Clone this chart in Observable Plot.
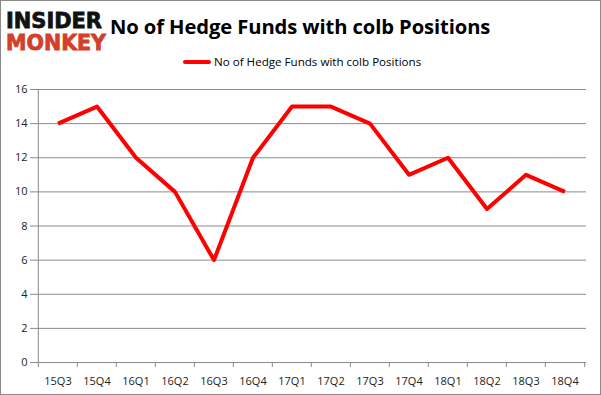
<!DOCTYPE html>
<html>
<head>
<meta charset="utf-8">
<script src="https://cdn.jsdelivr.net/npm/d3@7"></script>
<script src="https://cdn.jsdelivr.net/npm/@observablehq/plot@0.6"></script>
<style>
  html, body { margin: 0; padding: 0; background: #fff; }
  #wrap { position: relative; width: 599px; height: 393px; border: 1px solid #8a8a8a; overflow: hidden; font-family: "Open Sans", "DejaVu Sans", sans-serif; }
  #header { position: relative; height: 79px; }
  #logo { position: absolute; left: 4px; top: 6px; }
  #title { position: absolute; left: 109px; top: 11px; font-size: 20.2px; font-weight: bold; color: #000; white-space: nowrap; letter-spacing: -0.1px; }
  #legend { position: absolute; left: 182px; top: 53px; font-size: 11.6px; color: #000; white-space: nowrap; display: flex; align-items: center; }
  #legend .sw { display: inline-block; width: 28px; height: 4px; background: #ff0000; margin-right: 3px; border-radius: 2px; }
  #chart svg { display: block; }
</style>
</head>
<body>
<div id="wrap">
  <div id="header">
    <svg id="logo" width="104" height="50">
      <text x="1" y="21" font-family="DejaVu Sans" font-weight="bold" font-size="21" fill="#111" textLength="96" lengthAdjust="spacingAndGlyphs" stroke="#111" stroke-width="0.8">INSIDER</text>
      <text x="1" y="43" font-family="DejaVu Sans" font-weight="bold" font-size="21" fill="#d2402c" textLength="100" lengthAdjust="spacingAndGlyphs" stroke="#d2402c" stroke-width="0.8">MONKEY</text>
    </svg>
    <div id="title">No of Hedge Funds with colb Positions</div>
    <div id="legend"><span class="sw"></span><span>No of Hedge Funds with colb Positions</span></div>
  </div>
  <div id="chart"></div>
</div>
<script>
const quarters = ["15Q3","15Q4","16Q1","16Q2","16Q3","16Q4","17Q1","17Q2","17Q3","17Q4","18Q1","18Q2","18Q3","18Q4"];
const funds = [14, 15, 12, 10, 6, 12, 15, 15, 14, 11, 12, 9, 11, 10];
const yTicks = [0, 2, 4, 6, 8, 10, 12, 14, 16];

const data = quarters.map((q, i) => ({q, v: funds[i]}));
const W = 599, mL = 34, mR = 14;
const bw = (W - mL - mR) / quarters.length;
const gray = "#8a8a8a";

const chart = Plot.plot({
  width: W,
  height: 314,
  marginLeft: mL,
  marginRight: mR,
  marginTop: 9,
  marginBottom: 32,
  style: {fontFamily: "'Open Sans', 'DejaVu Sans', sans-serif", fontSize: "11px", color: "#222", background: "#fff"},
  x: {type: "band", domain: quarters, padding: 0, label: null},
  y: {domain: [0, 16], label: null},
  marks: [
    Plot.gridY(yTicks, {stroke: gray, strokeOpacity: 1, strokeWidth: 1}),
    Plot.ruleX([quarters[0]], {dx: -bw / 2, stroke: gray}),
    Plot.ruleY([0], {stroke: gray}),
    Plot.axisY({ticks: yTicks, tickSize: 5, stroke: gray, tickPadding: 3, fill: "#222", fontSize: 11}),
    Plot.axisX({tickSize: 5, stroke: gray, tickFormat: () => "", dx: -bw / 2}),
    Plot.axisX({ticks: [quarters[quarters.length - 1]], tickSize: 5, stroke: gray, tickFormat: () => "", dx: bw / 2}),
    Plot.axisX({tickSize: 0, tickPadding: 15, fill: "#222", fontSize: 11}),
    Plot.line(data, {x: "q", y: "v", stroke: "#ff0000", strokeWidth: 4, strokeLinejoin: "round", strokeLinecap: "butt"})
  ]
});
document.getElementById("chart").appendChild(chart);
</script>
</body>
</html>
